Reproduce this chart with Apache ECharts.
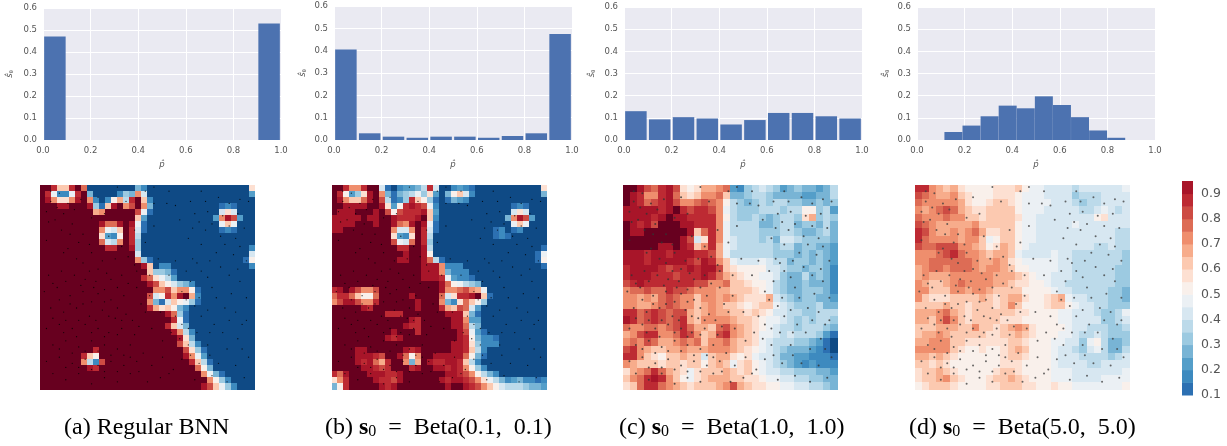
<!DOCTYPE html>
<html><head><meta charset="utf-8">
<style>html,body{margin:0;padding:0;background:#fff}#c{width:1227px;height:446px}</style>
<script src="https://cdn.jsdelivr.net/npm/echarts@6/dist/echarts.min.js"></script>
</head><body><div id="c"></div>
<script>
const histBinsA=[0.05,0.15,0.25,0.35,0.45,0.55,0.65,0.75,0.85,0.95];
const histA=[0.47,0,0,0,0,0,0,0,0,0.53];
const histB=[0.405,0.03,0.015,0.01,0.015,0.015,0.01,0.018,0.03,0.475];
const histC=[0.13,0.093,0.103,0.097,0.07,0.09,0.122,0.122,0.107,0.097];
const histBinsD=[0.153,0.229,0.305,0.381,0.457,0.533,0.609,0.685,0.761,0.837];
const histD=[0.036,0.065,0.107,0.155,0.143,0.197,0.158,0.103,0.043,0.01];
const levels=[0,0.10,0.15,0.20,0.25,0.30,0.35,0.40,0.45,0.50,0.55,0.60,0.65,0.70,0.75,0.80,0.85,0.90,0.95,1.01];
const levelColors=['#0f4a85','#2c70b2','#3d8abf','#549ec9','#78b4d5','#9ccae1','#bcdaea','#d7e7f1','#ebf0f4','#f9f0eb','#fde0d2','#fcc9b0','#f7ac8b','#ef8e6d','#dd6c55','#cd4b43','#bd2a33','#a81529','#67001f'];
const gridA=[
[99,99,85,62,62,85,99,75,8,2,2,2,2,2,2,8,25,15,2,2,2,2,2,2,2,2,2,2,2,2,2,2,2,2,2,55],
[99,88,48,16,16,48,88,99,25,4,2,2,2,15,30,25,70,40,8,2,2,2,2,2,2,2,2,2,2,2,2,2,2,2,2,20],
[99,94,72,58,58,72,94,99,70,15,5,15,50,65,35,85,95,60,15,2,2,2,2,2,2,2,2,2,2,2,2,2,2,2,2,2],
[99,99,95,92,92,95,99,99,90,30,12,60,90,99,70,80,99,70,25,4,2,2,2,2,2,2,2,2,2,2,10,15,10,2,2,2],
[99,99,99,99,99,99,99,99,99,65,70,99,99,99,95,99,80,45,10,2,2,2,2,2,2,2,2,2,2,8,40,55,40,8,2,2],
[99,99,99,99,99,99,99,99,99,99,99,99,99,99,99,99,60,20,4,2,2,2,2,2,2,2,2,2,2,20,70,90,80,20,2,2],
[99,99,99,99,99,99,99,99,99,99,90,75,75,90,99,90,45,12,2,2,2,2,2,2,2,2,2,2,2,8,45,60,45,8,2,2],
[99,99,99,99,99,99,99,99,99,99,70,45,40,60,99,85,40,10,2,2,2,2,2,2,2,2,2,2,2,2,10,15,10,2,2,2],
[99,99,99,99,99,99,99,99,99,99,58,22,16,52,99,85,35,8,2,2,2,2,2,2,2,2,2,2,2,2,2,2,2,2,2,2],
[99,99,99,99,99,99,99,99,99,99,75,40,35,70,99,85,30,6,2,2,2,2,2,2,2,2,2,2,2,2,2,2,2,2,2,2],
[99,99,99,99,99,99,99,99,99,99,99,85,85,99,99,90,30,5,2,2,2,2,2,2,2,2,2,2,2,2,2,2,2,2,2,15],
[99,99,99,99,99,99,99,99,99,99,99,99,99,99,99,95,40,6,2,2,2,2,2,2,2,2,2,2,2,2,2,2,2,2,8,40],
[99,99,99,99,99,99,99,99,99,99,99,99,99,99,99,99,70,30,10,5,2,2,2,2,2,2,2,2,2,2,2,2,2,2,10,50],
[99,99,99,99,99,99,99,99,99,99,99,99,99,99,99,99,99,90,60,8,15,15,6,2,2,2,2,2,2,2,2,2,2,2,2,15],
[99,99,99,99,99,99,99,99,99,99,99,99,99,99,99,99,99,99,60,30,30,25,10,2,2,2,2,2,2,2,2,2,2,2,2,2],
[99,99,99,99,99,99,99,99,99,99,99,99,99,99,99,99,99,85,75,55,45,35,20,8,2,2,2,2,2,2,2,2,2,2,2,2],
[99,99,99,99,99,99,99,99,99,99,99,99,99,99,99,99,99,99,90,80,60,50,40,30,25,15,6,2,2,2,2,2,2,2,2,2],
[99,99,99,99,99,99,99,99,99,99,99,99,99,99,99,99,99,99,99,70,70,80,60,70,70,50,10,2,2,2,2,2,2,2,2,2],
[99,99,99,99,99,99,99,99,99,99,99,99,99,99,99,99,99,99,80,42,50,85,70,90,95,65,15,2,2,2,2,2,2,2,2,2],
[99,99,99,99,99,99,99,99,99,99,99,99,99,99,99,99,99,99,70,25,14,40,60,50,45,30,10,2,2,2,2,2,2,2,2,2],
[99,99,99,99,99,99,99,99,99,99,99,99,99,99,99,99,99,99,85,65,55,60,50,25,15,6,2,2,2,2,2,2,2,2,2,2],
[99,99,99,99,99,99,99,99,99,99,99,99,99,99,99,99,99,99,99,99,99,90,75,30,10,2,2,2,2,2,2,2,2,2,2,2],
[99,99,99,99,99,99,99,99,99,99,99,99,99,99,99,99,99,99,99,99,99,99,85,45,10,2,2,2,2,2,2,2,2,2,2,2],
[99,99,99,99,99,99,99,99,99,99,99,99,99,99,99,99,99,99,99,99,99,85,60,40,25,8,2,2,2,2,2,2,2,2,2,2],
[99,99,99,99,99,99,99,99,99,99,99,99,99,99,99,99,99,99,99,99,99,99,90,70,35,15,4,2,2,2,2,2,2,2,2,2],
[99,99,99,99,99,99,99,99,99,99,99,99,99,99,99,99,99,99,99,99,99,99,99,90,55,25,8,2,2,2,2,2,2,2,2,2],
[99,99,99,99,99,99,99,99,99,99,99,99,99,99,99,99,99,99,99,99,99,99,99,80,60,35,15,3,2,2,2,2,2,2,2,2],
[99,99,99,99,99,99,99,99,99,85,99,99,99,99,99,99,99,99,99,99,99,99,99,99,80,55,30,10,2,2,2,2,2,2,2,2],
[99,99,99,99,99,99,99,85,62,52,99,99,99,99,99,99,99,99,99,99,99,99,99,99,90,70,45,20,5,2,2,2,2,2,2,2],
[99,99,99,99,99,99,99,72,35,16,80,99,99,99,99,99,99,99,99,99,99,99,99,99,99,85,60,35,12,3,2,2,2,2,2,2],
[99,99,99,99,99,99,99,99,90,85,99,99,99,99,99,99,99,99,99,99,99,99,99,99,99,99,75,50,25,8,2,2,2,2,2,2],
[99,99,99,99,99,99,99,99,99,99,99,99,99,99,99,99,99,99,99,99,99,99,99,99,99,99,99,70,45,25,10,3,2,2,2,2],
[99,99,99,99,99,99,99,99,99,99,99,99,99,99,99,99,99,99,99,99,99,99,99,99,99,99,99,99,70,50,30,15,5,2,2,2],
[99,99,99,99,99,99,99,99,99,99,99,99,99,99,99,99,99,99,99,99,99,99,99,99,99,99,99,90,80,60,45,30,15,5,2,2]
];
const gridB=[
[99,99,85,70,70,85,99,95,40,12,8,15,20,20,25,35,85,40,8,8,15,20,15,12,8,2,2,2,2,2,2,2,2,2,2,55],
[99,88,50,22,30,55,90,97,70,25,10,25,30,35,45,30,55,20,5,25,50,60,40,15,8,2,2,2,2,2,2,2,2,2,2,25],
[99,92,72,60,60,75,92,99,80,35,10,15,30,85,60,50,30,12,4,12,25,20,15,8,2,2,2,2,2,2,2,2,2,2,2,2],
[99,99,92,90,90,92,99,99,92,55,20,50,85,92,85,80,45,15,3,4,6,4,2,2,2,2,2,2,2,2,10,15,10,2,2,2],
[99,92,92,92,99,99,99,92,97,80,50,80,85,85,85,90,60,20,2,2,2,2,2,2,2,2,2,2,2,8,40,55,40,8,2,2],
[92,92,92,90,92,99,92,92,99,97,90,85,85,85,90,95,60,18,2,2,2,2,2,2,2,2,2,2,2,25,70,92,80,20,2,2],
[92,92,92,92,99,99,99,92,99,99,92,75,70,92,99,90,45,12,2,2,2,2,2,2,2,2,2,2,2,8,45,60,45,6,2,2],
[92,92,99,99,99,99,99,99,99,99,70,40,40,70,99,85,40,10,2,2,2,2,2,2,2,2,8,12,15,8,10,15,8,2,2,2],
[99,99,99,99,99,99,99,99,99,99,58,20,16,55,99,85,35,8,2,2,2,2,2,2,2,2,2,12,15,12,2,2,2,2,2,2],
[99,99,99,99,99,99,99,99,99,99,80,45,40,75,99,85,30,6,2,2,2,2,2,2,2,2,2,2,8,2,2,2,2,2,2,2],
[99,99,99,99,99,99,99,99,99,99,99,88,88,99,99,90,35,6,2,2,2,2,2,2,2,2,2,2,2,2,2,2,2,2,2,12],
[99,99,99,99,99,99,99,99,99,99,99,99,92,99,99,92,50,8,3,2,2,2,2,2,2,2,2,2,2,2,2,2,2,2,10,45],
[99,99,99,99,99,99,99,99,99,99,99,92,92,99,99,92,75,35,12,5,2,2,2,2,2,2,2,2,2,2,2,2,2,2,12,50],
[99,99,99,99,99,99,99,99,99,99,99,99,99,99,99,92,92,92,70,15,15,15,6,2,2,2,2,2,2,2,2,2,2,2,2,12],
[99,99,99,99,99,99,99,99,99,99,99,99,99,99,99,90,90,92,70,25,18,15,15,4,2,2,2,2,2,2,2,2,2,2,2,2],
[99,99,99,99,99,99,99,99,99,99,99,99,99,99,99,92,92,90,85,45,20,15,15,10,2,2,2,2,2,2,2,2,2,2,2,2],
[99,99,99,99,99,99,99,99,99,99,99,99,99,99,99,99,99,99,90,75,50,45,35,30,25,8,2,2,2,2,2,2,2,2,2,2],
[85,92,99,92,80,70,72,80,99,99,99,99,99,99,99,99,99,99,92,70,70,75,80,70,65,45,8,2,2,2,2,2,2,2,2,2],
[75,85,85,75,62,52,54,75,99,99,99,99,99,92,99,99,99,99,75,42,55,85,85,92,95,60,12,2,2,2,2,2,2,2,2,2],
[70,80,92,90,80,70,70,85,99,99,99,99,99,99,92,99,99,99,70,28,18,55,75,60,50,30,8,2,2,2,2,2,2,2,2,2],
[99,99,99,99,99,92,88,99,99,99,99,99,99,99,92,99,99,99,85,65,60,80,75,40,20,6,2,2,2,2,2,2,2,2,2,2],
[99,99,99,99,99,99,99,99,99,88,85,88,99,99,99,99,99,99,99,92,92,92,60,25,12,5,2,2,2,2,2,2,2,2,2,2],
[99,99,99,99,99,99,99,99,99,99,99,99,99,92,88,99,99,99,99,99,92,92,70,20,20,6,2,2,2,2,2,2,2,2,2,2],
[99,99,99,99,99,99,99,99,99,99,99,99,92,88,88,99,99,99,99,99,92,92,75,35,25,8,2,2,2,2,2,2,2,2,2,2],
[99,99,99,99,99,99,99,99,99,99,92,99,99,99,88,99,99,99,99,99,99,92,80,45,20,10,4,2,2,2,2,2,2,2,2,2],
[99,99,99,99,99,99,99,99,99,92,88,92,99,99,99,99,99,99,99,99,99,92,85,50,25,15,18,12,2,2,2,2,2,2,2,2],
[99,99,99,99,99,99,99,99,99,99,99,99,99,99,99,99,99,99,99,99,92,92,85,55,30,15,15,15,2,2,2,2,2,2,2,2],
[99,99,99,99,92,92,99,99,99,99,99,99,92,88,92,99,99,99,99,99,92,92,88,60,35,18,6,2,2,2,2,2,2,2,2,2],
[99,99,99,99,90,90,92,88,80,99,99,92,75,50,70,99,99,92,92,92,90,92,75,50,25,10,2,2,2,2,2,2,2,2,2,2],
[99,99,99,99,92,88,92,75,65,88,99,99,70,28,65,99,92,88,88,90,92,85,60,35,15,5,2,2,2,2,2,2,2,2,2,2],
[99,99,99,99,99,92,92,88,80,88,99,99,95,88,92,99,99,92,92,88,92,85,70,50,30,15,5,2,2,2,2,2,2,2,2,2],
[85,75,92,99,99,99,92,92,92,88,85,92,99,99,99,99,99,99,99,92,90,85,80,70,50,35,25,15,8,2,2,2,2,2,2,3],
[55,70,88,99,99,99,99,92,88,85,80,92,99,99,99,99,99,99,90,88,92,92,85,80,70,55,45,35,25,15,20,25,18,15,12,15],
[25,50,85,99,99,99,99,99,92,88,92,99,99,99,99,99,99,99,99,92,95,99,92,88,80,72,62,50,40,35,35,35,30,28,25,22]
];
const gridC=[
[99,95,90,82,78,88,92,82,58,52,58,65,68,72,75,20,18,30,38,40,38,30,22,25,30,25,28,22,25,35],
[99,92,85,72,72,85,90,78,62,55,62,70,72,75,62,25,25,30,38,35,32,28,25,28,28,22,22,28,28,35],
[95,92,88,78,80,88,90,82,70,72,75,80,78,70,52,35,30,28,32,35,32,35,35,30,30,28,25,30,28,30],
[92,90,92,90,92,88,92,95,85,80,85,88,80,72,48,35,30,30,32,35,35,38,30,35,35,50,50,30,35,22],
[92,92,92,92,85,92,99,92,92,88,85,88,85,72,50,35,32,32,35,30,28,32,35,35,30,55,68,30,35,30],
[95,92,88,92,80,99,99,99,92,92,85,88,85,70,48,38,35,35,35,28,25,32,35,35,25,30,30,25,38,28],
[99,92,92,95,99,99,99,99,99,92,62,75,85,72,45,38,38,35,35,32,30,30,38,38,32,28,28,30,38,25],
[99,99,99,99,99,99,99,99,92,80,42,58,85,72,48,40,38,38,35,30,35,28,40,42,35,32,30,30,32,25],
[99,99,99,99,99,92,92,95,92,88,62,72,85,68,48,40,38,38,35,35,35,30,38,38,28,30,30,28,28,22],
[92,92,92,88,92,92,85,92,92,92,85,85,80,65,48,38,38,38,35,38,35,32,32,30,28,30,28,30,25,22],
[92,92,90,85,90,92,92,92,92,88,82,90,85,70,60,48,42,42,42,45,40,38,35,28,30,30,28,30,28,20],
[88,92,92,92,92,88,80,85,88,92,88,92,92,80,62,58,52,50,50,50,42,42,38,30,30,28,30,32,28,18],
[85,92,92,90,88,88,85,80,88,88,85,92,88,75,68,62,58,52,50,48,45,42,32,28,28,35,28,30,25,15],
[82,88,90,88,85,85,88,85,88,88,82,80,72,72,75,62,60,55,52,50,45,38,30,25,28,30,28,28,25,15],
[72,78,75,80,75,78,85,82,80,75,70,72,70,65,68,62,60,60,55,50,45,35,30,28,28,30,30,30,25,18],
[70,72,68,72,68,75,80,78,72,70,62,70,72,68,72,65,62,58,56,58,65,42,35,30,28,30,30,28,25,22],
[72,70,65,68,72,78,82,75,70,72,60,68,70,65,60,62,55,52,58,60,60,48,40,35,32,30,30,35,28,25],
[85,88,75,82,85,80,75,80,82,68,60,65,70,68,65,62,62,58,60,58,50,42,40,38,35,30,32,35,38,35],
[90,88,78,80,85,82,78,80,88,65,60,70,72,72,70,65,62,60,58,52,48,45,42,35,30,35,32,38,38,30],
[75,72,72,75,75,72,78,80,88,75,68,68,62,78,80,70,65,60,58,52,48,42,38,35,30,35,38,35,30,25],
[68,72,80,88,85,72,70,75,85,80,72,60,65,82,88,72,65,62,58,48,45,42,38,40,38,38,35,30,22,12],
[72,78,72,82,78,68,68,72,75,72,78,62,70,72,75,68,62,60,55,48,42,38,35,35,30,30,25,20,12,8],
[80,88,72,65,60,62,65,68,72,65,68,65,70,72,72,65,62,58,50,48,42,38,30,28,25,25,22,18,10,8],
[85,88,70,62,55,50,60,62,65,60,62,42,62,68,65,58,52,58,48,42,40,35,28,25,22,20,18,18,15,12],
[70,68,60,62,60,58,62,60,58,62,60,50,62,65,60,48,55,60,50,45,40,35,32,28,20,15,20,18,18,18],
[58,65,72,78,85,78,68,62,55,48,55,62,60,62,65,60,58,60,52,48,42,42,38,35,32,30,30,28,25,22],
[62,72,75,88,92,85,72,62,50,45,58,62,65,68,68,62,60,58,55,50,48,45,42,40,38,35,32,30,28,25],
[58,62,78,85,88,78,70,65,60,58,60,62,60,65,72,80,68,60,58,55,50,50,48,45,42,40,38,35,32,25]
];
const gridD=[
[88,85,72,65,62,66,58,52,50,52,52,55,56,56,62,50,48,46,44,44,42,40,38,40,40,40,42,42,44,46],
[80,78,72,66,68,72,62,55,50,50,52,58,58,58,52,48,46,46,44,44,42,40,34,36,37,37,40,42,42,44],
[76,70,72,72,74,74,66,58,52,54,58,62,60,58,52,48,46,46,46,42,42,40,37,34,36,38,40,40,40,44],
[72,68,72,78,82,76,68,60,58,56,60,62,62,60,54,48,46,46,44,44,42,40,40,38,37,44,46,40,38,40],
[78,72,72,74,78,72,72,62,62,58,60,62,62,62,55,48,46,44,44,42,40,42,44,42,40,52,58,42,40,42],
[82,78,72,68,66,66,68,66,72,62,60,62,62,60,54,48,46,44,44,42,40,40,46,42,40,44,44,40,40,42],
[88,80,72,68,66,70,66,70,78,66,55,58,62,60,52,46,46,44,44,42,42,40,44,44,40,40,40,40,38,38],
[88,78,74,72,74,70,68,72,70,62,47,52,60,60,52,46,46,44,42,42,40,40,44,44,42,40,40,40,38,38],
[80,76,75,80,84,80,72,70,68,64,54,58,68,62,50,46,44,42,42,44,40,40,40,42,40,38,38,40,38,37],
[72,72,74,78,82,85,78,74,70,68,62,66,68,60,48,44,44,44,44,46,44,40,38,38,36,38,38,38,37,34],
[72,72,78,78,76,76,78,76,72,68,68,70,66,58,50,46,46,46,46,46,44,40,38,36,38,37,38,38,36,32],
[68,72,78,76,74,76,78,78,72,68,74,72,68,62,54,50,48,46,46,46,44,40,38,36,36,37,38,36,34,32],
[68,72,66,66,68,72,72,74,70,70,70,68,68,66,60,56,50,48,46,44,44,40,38,36,36,37,38,36,34,32],
[70,68,64,62,66,72,76,70,72,74,70,66,66,64,58,56,52,50,46,44,42,38,36,36,36,36,36,36,34,30],
[74,70,62,60,60,72,70,68,70,72,66,62,64,62,60,54,52,50,50,48,44,40,38,38,37,36,36,34,32,28],
[70,62,58,58,56,60,62,62,60,66,62,56,62,68,66,56,54,52,58,62,68,46,44,40,38,37,36,34,30,28],
[62,64,60,62,66,62,60,58,62,64,60,58,64,70,62,54,54,52,56,60,62,50,46,42,40,38,36,34,32,32],
[68,66,66,72,76,68,62,58,62,64,60,60,62,62,58,56,54,52,52,50,48,48,44,42,40,38,34,32,36,48],
[66,66,64,72,82,70,64,58,60,60,60,60,58,58,56,54,54,52,50,50,48,48,44,40,40,40,34,32,38,44],
[62,62,62,66,68,66,62,64,70,62,60,58,60,68,74,66,58,54,52,50,50,46,44,40,38,38,36,32,34,37],
[64,66,68,70,68,64,62,62,64,60,58,56,60,64,68,60,56,52,50,50,48,46,42,38,38,40,38,32,34,34],
[68,68,70,74,70,64,60,58,56,56,58,56,58,60,60,58,54,52,50,48,46,44,40,34,46,50,36,28,28,34],
[72,70,72,74,70,62,56,54,54,56,54,54,58,60,66,60,52,52,50,48,44,44,38,30,42,46,36,28,28,36],
[68,68,64,66,62,58,54,52,52,54,52,54,56,60,64,58,52,52,50,48,44,44,40,36,36,38,36,34,36,40],
[62,62,58,60,58,54,52,50,52,52,54,54,58,58,56,54,52,50,50,46,44,44,42,40,38,38,40,40,42,44],
[56,62,62,68,64,58,54,50,50,50,54,56,62,62,58,54,52,50,50,48,46,46,44,44,42,42,44,44,44,46],
[56,60,64,68,70,62,56,52,50,52,56,60,62,68,62,56,52,52,50,48,48,46,44,44,44,44,46,46,46,48],
[54,56,60,62,62,58,54,52,52,54,56,58,60,62,60,58,56,54,54,58,54,50,48,46,46,46,46,46,48,50]
];
const pointsXY=[[5,3],[9,4],[13,9],[5,8],[16,12],[19,7],[36,1],[27,6],[49,3],[53,1],[60,3],[53,9],[59,9],[63,10],[70,8],[75,3],[77,8],[83,6],[88,9],[93,7],[97,8],[72,14],[78,13],[85,15],[92,14],[71,21],[77,22],[84,25],[91,26],[95,21],[75,29],[82,33],[90,34],[96,37],[71,36],[73,38],[63,37],[68,42],[60,44],[70,47],[78,45],[88,44],[93,47],[96,55],[80,50],[66,52],[68,56],[74,55],[86,60],[91,62],[96,66],[75,64],[81,68],[69,70],[63,64],[85,72],[92,75],[78,78],[69,78],[66,85],[74,87],[83,87],[91,88],[97,84],[60,92],[72,95],[80,93],[87,96],[95,94],[3,13],[4,18],[10,22],[15,19],[20,24],[24,16],[30,14],[3,27],[11,33],[17,36],[24,33],[29,37],[35,36],[41,35],[44,39],[4,44],[10,42],[16,44],[21,46],[26,47],[33,46],[38,44],[45,42],[2,52],[8,50],[14,54],[20,52],[27,53],[33,56],[39,54],[45,50],[47,58],[5,60],[11,62],[17,60],[23,64],[29,61],[35,65],[40,63],[3,70],[9,68],[15,70],[21,68],[27,70],[32,72],[38,70],[44,73],[6,78],[12,76],[18,79],[24,76],[30,78],[36,80],[42,78],[48,82],[3,86],[9,84],[15,87],[21,85],[27,88],[33,86],[39,88],[45,86],[52,88],[6,92],[12,95],[18,92],[24,97],[30,94],[36,96],[42,92],[50,96],[56,94],[62,90],[52,70],[56,62],[57,76],[61,72],[51,44],[55,36],[49,28],[53,20],[40,8],[32,25],[44,22],[38,30],[8,11],[11,14],[7,17],[14,24],[18,28],[23,29],[13,31],[20,38],[27,41],[31,43],[23,42],[19,49],[12,47],[6,48],[25,50],[30,51],[36,50],[41,48],[24,57],[20,58],[14,58],[9,56],[30,57],[36,60],[32,64],[26,66],[18,66],[12,66],[6,65],[38,66],[43,66],[36,73],[30,74],[24,72],[17,74],[11,72],[27,81],[33,83],[39,83],[21,81],[15,82],[9,80],[24,90],[30,91],[36,91],[18,89],[12,89],[46,91],[42,84],[46,69],[49,62],[51,54],[65,17],[69,26],[74,18],[80,19],[88,20],[93,30],[86,29],[79,37],[84,40],[92,41],[75,42],[82,55],[89,53],[72,59],[78,61],[66,68],[73,72],[79,72],[88,66],[94,68],[70,83],[79,83],[87,80],[94,80],[65,75],[57,84]];

const barGrids=[{left:43,top:8,bins:histBinsA,vals:histA,w:21.5,name:13},{left:334,top:6,bins:histBinsA,vals:histB,w:21.5,name:306},{left:624,top:7,bins:histBinsA,vals:histC,w:21.5,name:595},{left:917,top:7,bins:histBinsD,vals:histD,w:18,name:889}];
const heatGrids=[{left:40,g:gridA,dot:1.3,c:'#000'},{left:332,g:gridB,dot:1.3,c:'#000'},{left:623,g:gridC,dot:2,c:'#333'},{left:915,g:gridD,dot:2,c:'#444'}];
const grid=[],xAxis=[],yAxis=[],series=[];
const lab={color:'#555',fontSize:8.5,fontFamily:'DejaVu Sans'};
barGrids.forEach((b,i)=>{
  grid.push({left:b.left,top:b.top,width:238,height:140-b.top,backgroundColor:'#eaeaf2',show:true,borderWidth:0});
  xAxis.push({type:'value',gridIndex:i,min:0,max:1,interval:0.2,axisLine:{show:false},axisTick:{show:false},splitLine:{show:true,lineStyle:{color:'#fff',width:1}},axisLabel:{...lab,margin:6,formatter:v=>v.toFixed(1)},name:'p\u0302',nameLocation:'middle',nameGap:20,nameTextStyle:{color:'#555',fontSize:8.5,fontStyle:'italic',fontFamily:'DejaVu Sans'}});
  yAxis.push({type:'value',gridIndex:i,min:0,max:0.6,interval:0.1,axisLine:{show:false},axisTick:{show:false},splitLine:{show:true,lineStyle:{color:'#fff',width:1}},axisLabel:{...lab,margin:6,formatter:v=>v.toFixed(1)},name:'{a|s\u0302}{b|\u03b8}',nameLocation:'middle',nameGap:b.left-b.name-1,nameRotate:90,nameTextStyle:{rich:{a:{fontSize:8.5,color:'#555',fontFamily:'DejaVu Sans',fontStyle:'italic'},b:{fontSize:5,color:'#555',fontFamily:'DejaVu Sans',verticalAlign:'bottom'}}}});
  series.push({type:'bar',xAxisIndex:i,yAxisIndex:i,barWidth:b.w,data:b.bins.map((x,k)=>[x,b.vals[k]]),itemStyle:{color:'#4c72b0'},silent:true,animation:false});
});
const cellItem=(p,api)=>{const c=api.coord([api.value(0),api.value(1)]),s=api.size([1,1]);
  return {type:'rect',shape:{x:Math.floor(c[0]-s[0]/2),y:Math.floor(c[1]-s[1]/2),width:Math.ceil(s[0])+1,height:Math.ceil(s[1])+1},style:{fill:api.visual('color')}};};
heatGrids.forEach((h,i)=>{
  const gi=4+i;
  grid.push({left:h.left,top:185,width:215,height:205});
  const rows=h.g.length,cols=h.g[0].length;
  const data=[];
  h.g.forEach((r,y)=>r.forEach((v,x)=>data.push([x,y,v/100])));
  xAxis.push({type:'category',gridIndex:gi,show:false,data:Array.from({length:cols},(_,k)=>k)});
  yAxis.push({type:'category',gridIndex:gi,show:false,inverse:true,data:Array.from({length:rows},(_,k)=>k)});
  series.push({type:'custom',xAxisIndex:gi,yAxisIndex:gi,data,silent:true,animation:false,clip:true,renderItem:cellItem,encode:{x:0,y:1}});
});
heatGrids.forEach((h,i)=>{
  const gi=4+i, ax=8+i;
  xAxis.push({type:'value',gridIndex:gi,show:false,min:0,max:100,splitLine:{show:false}});
  yAxis.push({type:'value',gridIndex:gi,show:false,min:0,max:100,inverse:true,splitLine:{show:false}});
  series.push({type:'scatter',xAxisIndex:ax,yAxisIndex:ax,data:pointsXY,symbolSize:h.dot,itemStyle:{color:h.c},silent:true,animation:false});
});
grid.push({left:1182,top:181,width:11,height:214});
xAxis.push({type:'value',gridIndex:8,show:false,min:0,max:1,splitLine:{show:false}});
yAxis.push({type:'value',gridIndex:8,min:0.1,max:0.95,interval:0.1,position:'right',axisLine:{show:false},axisTick:{show:false},splitLine:{show:false},axisLabel:{color:'#555',fontSize:12.5,fontFamily:'DejaVu Sans',margin:8,showMaxLabel:false,formatter:v=>v.toFixed(1)}});
const cbData=[];
for(let k=1;k<levels.length-2;k++)cbData.push([levels[k],levels[k+1]]);
series.push({type:'custom',xAxisIndex:12,yAxisIndex:12,data:cbData,silent:true,animation:false,encode:{y:[0,1]},
  renderItem:(p,api)=>{const a=api.coord([0,api.value(0)]),b=api.coord([1,api.value(1)]);
    return {type:'rect',shape:{x:a[0],y:b[1],width:b[0]-a[0],height:a[1]-b[1]+0.5},style:{fill:levelColors[p.dataIndex+1]}};}});
const serif='"Liberation Serif"';
const capRich={t:{fontFamily:serif,fontSize:24,color:'#111'},s:{fontFamily:serif,fontSize:24,fontWeight:'bold',color:'#111'},z:{fontFamily:serif,fontSize:16,color:'#111',verticalAlign:'bottom',padding:[8,0,0,0]}};
const sp='\u00a0';
const capText=[[64,'{t|(a) Regular BNN}'],[325,`{t|(b) }{s|s}{z|0}{t|${sp} = ${sp}Beta(0.1, ${sp}0.1)}`],[619,`{t|(c) }{s|s}{z|0}{t|${sp} = ${sp}Beta(1.0, ${sp}1.0)}`],[909,`{t|(d) }{s|s}{z|0}{t|${sp} = ${sp}Beta(5.0, ${sp}5.0)}`]];
const chart=echarts.init(document.getElementById('c'),null,{renderer:'canvas'});
chart.setOption({animation:false,backgroundColor:'#fff',grid,xAxis,yAxis,series,
  visualMap:{type:'piecewise',show:false,seriesIndex:[4,5,6,7],dimension:2,pieces:levelColors.map((c,k)=>({gte:levels[k],lt:levels[k+1],color:c}))},
  graphic:capText.map(([x,t])=>({type:'text',left:x,top:416,silent:true,style:{text:t,rich:capRich}}))});
</script></body></html>
